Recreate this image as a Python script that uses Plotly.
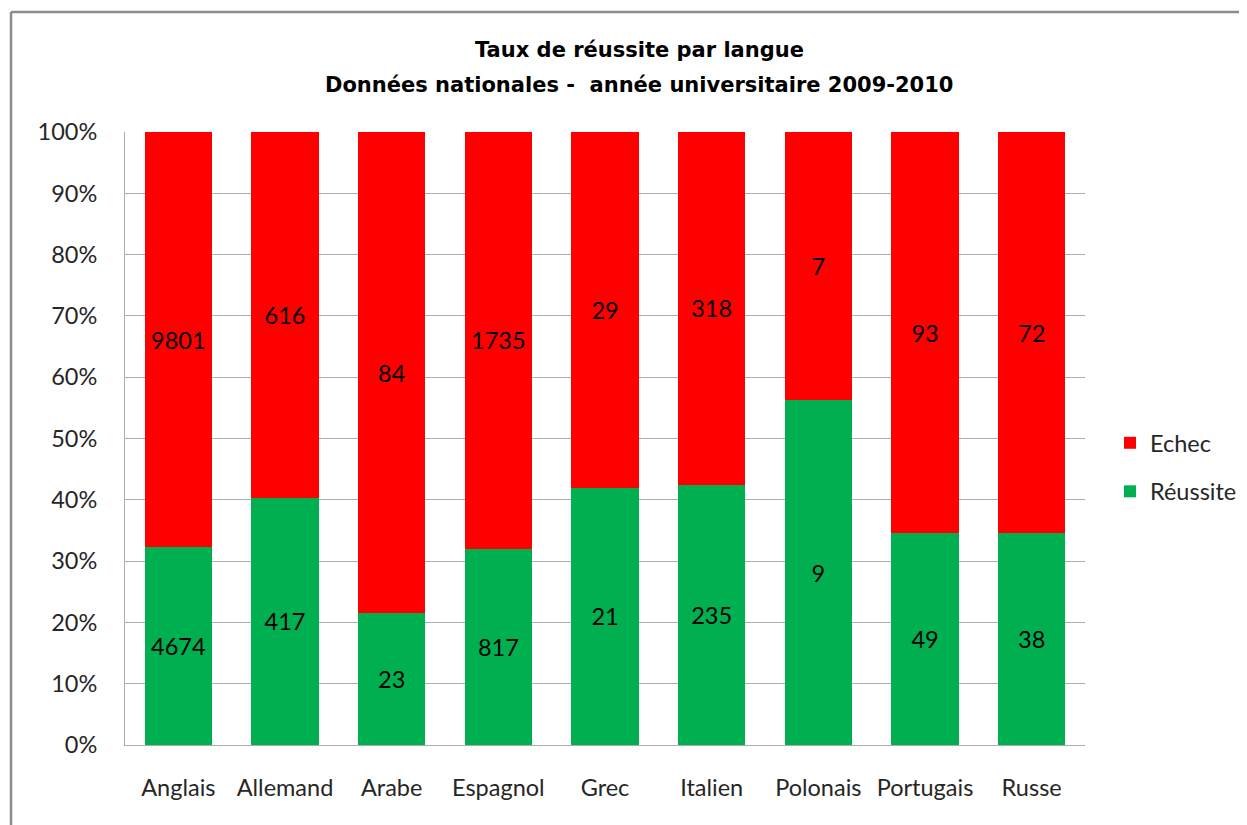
import plotly.graph_objects as go

langues = ["Anglais", "Allemand", "Arabe", "Espagnol", "Grec", "Italien", "Polonais", "Portugais", "Russe"]
reussite = [4674, 417, 23, 817, 21, 235, 9, 49, 38]
echec = [9801, 616, 84, 1735, 29, 318, 7, 93, 72]
tick_vals = [0, 10, 20, 30, 40, 50, 60, 70, 80, 90, 100]
tick_text = ["0%", "10%", "20%", "30%", "40%", "50%", "60%", "70%", "80%", "90%", "100%"]
title_lines = ["Taux de réussite par langue", "Données nationales -  année universitaire 2009-2010"]

W, H = 1247, 825
OFF = 8  # page body margin
L, R, T, B = 125 - OFF, 1085 - OFF, 132 - OFF, 745 - OFF

lab_font = dict(family="Lato, 'Open Sans', sans-serif", size=23.5, color="#000000")
axis_font = dict(family="Lato, 'Open Sans', sans-serif", size=23.5, color="#262626")

fig = go.Figure()
fig.add_trace(go.Bar(
    x=langues, y=reussite, name="Réussite", text=reussite,
    texttemplate="%{text}", textposition="inside", insidetextanchor="middle",
    textfont=lab_font, marker=dict(color="#00B050", line=dict(width=0)),
    legendgroup="r", legendrank=2, constraintext="none",
))
fig.add_trace(go.Bar(
    x=langues, y=echec, name="Echec", text=echec,
    texttemplate="%{text}", textposition="inside", insidetextanchor="middle",
    textfont=lab_font, marker=dict(color="#FF0000", line=dict(width=0)),
    legendgroup="e", legendrank=1, constraintext="none",
))

pw, ph = R - L, B - T
def px(x):
    return (x - OFF - L) / pw
def py(y):
    return (B - (y - OFF)) / ph

title_font = dict(family="'DejaVu Sans', sans-serif", size=21, color="#000000", weight="bold")

fig.update_layout(
    width=W, height=H,
    margin=dict(l=L, r=W - R, t=T, b=H - B, pad=0),
    barmode="stack", barnorm="percent", bargap=0.37,
    paper_bgcolor="white", plot_bgcolor="white",
    hovermode=False,
    legend=dict(
        x=px(1110), y=py(421), xanchor="left", yanchor="top",
        font=axis_font, tracegroupgap=15, itemwidth=30,
        bgcolor="rgba(0,0,0,0)",
    ),
    showlegend=True,
    yaxis=dict(
        range=[0, 100], tickvals=tick_vals, ticktext=tick_text,
        showgrid=True, gridcolor="#ADADAD", gridwidth=1,
        showline=True, linecolor="#ADADAD", linewidth=1,
        ticks="", tickfont=axis_font, ticklabelstandoff=22, zeroline=False,
    ),
    xaxis=dict(
        showline=True, linecolor="#ADADAD", linewidth=1,
        ticks="", tickfont=axis_font, ticklabelstandoff=22,
    ),
    annotations=[
        dict(text=title_lines[0], xref="paper", yref="paper", x=px(639), y=py(50),
             xanchor="center", yanchor="middle", showarrow=False, font=title_font),
        dict(text=title_lines[1], xref="paper", yref="paper", x=px(639), y=py(85),
             xanchor="center", yanchor="middle", showarrow=False, font=title_font),
    ],
    shapes=[
        dict(type="line", xref="paper", yref="paper", x0=px(11), x1=px(11), y0=py(12), y1=py(840),
             line=dict(color="#8C8C8C", width=2.5)),
        dict(type="line", xref="paper", yref="paper", x0=px(11), x1=px(1260), y0=py(12), y1=py(12),
             line=dict(color="#8C8C8C", width=2.5)),
    ],
)

fig.write_html("out.html")
